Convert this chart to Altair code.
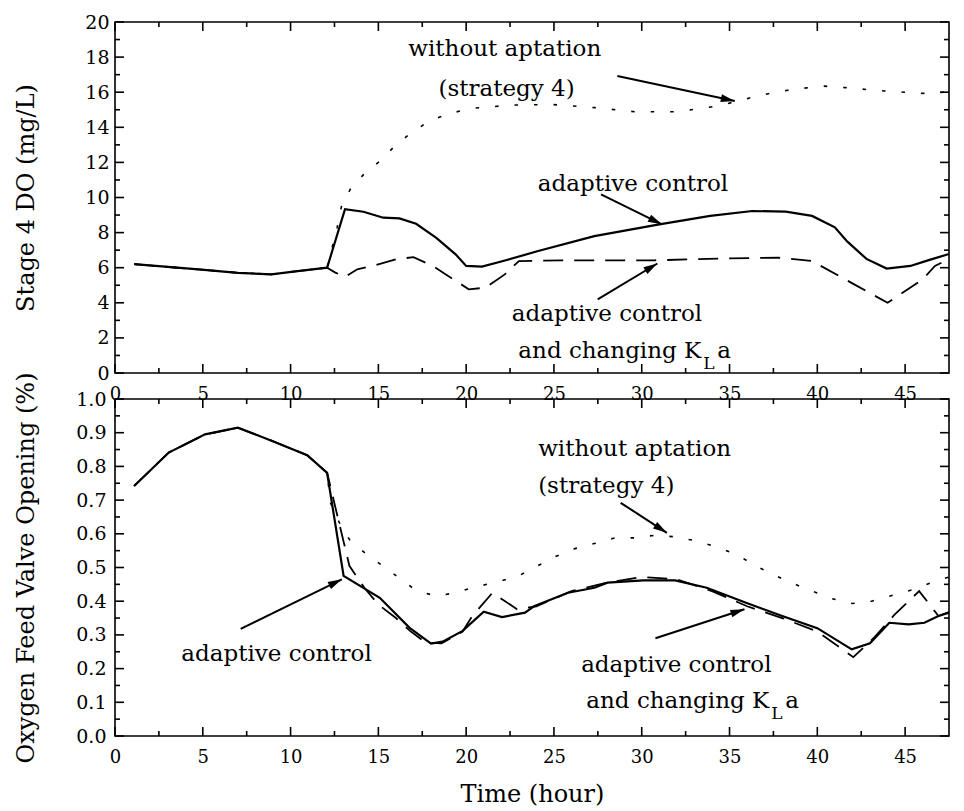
import math
import altair as alt
import pandas as pd

# ---------------- data ----------------
# Top panel: Stage 4 DO (mg/L)
do_solid_t = [1.1, 4.75, 7.0, 8.9, 10.4, 12.08, 13.1, 14.15, 15.28, 16.2, 17.15, 18.3, 19.4, 20.0, 20.9, 22.0,
              24.1, 27.3, 31.0, 33.9, 36.3, 38.2, 39.7, 41.0, 41.7, 42.8, 43.95, 45.3, 46.3, 47.5]
do_solid_v = [6.2, 5.9, 5.71, 5.62, 5.81, 6.0, 9.33, 9.19, 8.85, 8.81, 8.5, 7.7, 6.76, 6.1, 6.06, 6.35,
              6.95, 7.8, 8.47, 8.95, 9.23, 9.19, 8.95, 8.3, 7.5, 6.5, 5.95, 6.1, 6.42, 6.78]

do_dashed_t = [1.1, 4.75, 7.0, 8.9, 10.4, 12.08, 12.55, 13.1, 13.8, 14.7, 16.0, 17.0, 18.1, 20.15, 21.1, 22.2,
               23.0, 25.4, 30.7, 34.8, 37.8, 39.7, 42.1, 44.0, 46.0, 46.7, 47.5]
do_dashed_v = [6.2, 5.9, 5.71, 5.62, 5.81, 6.0, 5.72, 5.47, 5.91, 6.1, 6.48, 6.6, 6.1, 4.77, 4.86, 5.62,
               6.38, 6.42, 6.42, 6.53, 6.57, 6.38, 5.05, 4.0, 5.34, 6.1, 6.5]

do_dotted_t = [1.1, 4.75, 7.0, 8.9, 10.4, 12.08, 12.65, 12.9, 13.4, 14.15, 15.1, 16.0, 16.9, 17.9, 19.0, 20.35,
               22.6, 24.9, 27.3, 29.6, 32.0, 34.25, 35.5, 36.7, 38.6, 40.3, 41.6, 43.8, 46.3, 47.5]
do_dotted_v = [6.2, 5.9, 5.71, 5.62, 5.81, 6.0, 8.28, 9.5, 10.47, 11.3, 12.08, 13.0, 13.7, 14.36, 14.78, 15.08,
               15.27, 15.3, 15.12, 14.89, 14.89, 15.2, 15.5, 15.82, 16.16, 16.35, 16.26, 16.07, 15.92, 16.03]

# Bottom panel: Oxygen feed valve opening
vo_solid_t = [1.09, 3.06, 5.13, 7.0, 8.88, 10.95, 12.08, 13.02, 15.08, 16.78, 18.0, 18.66, 19.8, 21.0, 22.04,
              23.35, 23.9, 25.8, 27.3, 28.05, 30.1, 31.9, 33.7, 35.9, 38.0, 40.0, 41.96, 43.0, 44.1, 45.2,
              46.1, 46.9, 47.5]
vo_solid_v = [0.742, 0.841, 0.895, 0.915, 0.877, 0.833, 0.781, 0.475, 0.41, 0.321, 0.274, 0.28, 0.312, 0.369,
              0.353, 0.366, 0.386, 0.425, 0.44, 0.455, 0.462, 0.462, 0.44, 0.396, 0.356, 0.32, 0.257, 0.275,
              0.336, 0.331, 0.336, 0.356, 0.366]

vo_dashed_t = [1.09, 3.06, 5.13, 7.0, 8.88, 10.95, 12.08, 13.35, 14.2, 15.0, 16.0, 16.8, 17.7, 18.6, 19.8,
               20.35, 21.5, 22.9, 24.0, 26.0, 28.0, 30.0, 32.0, 34.0, 36.0, 38.0, 40.0, 42.05, 43.2, 44.4,
               45.8, 46.9, 47.5]
vo_dashed_v = [0.742, 0.841, 0.895, 0.915, 0.877, 0.833, 0.781, 0.505, 0.44, 0.39, 0.35, 0.312, 0.277, 0.275,
               0.31, 0.356, 0.425, 0.376, 0.385, 0.43, 0.455, 0.472, 0.465, 0.43, 0.385, 0.35, 0.31, 0.234,
               0.29, 0.36, 0.43, 0.356, 0.368]

vo_dotted_t = [1.09, 3.06, 5.13, 7.0, 8.88, 10.95, 12.08, 12.27, 12.83, 13.4, 14.33, 15.28, 16.2, 17.15, 18.3,
               19.4, 20.5, 21.85, 22.98, 23.9, 25.05, 26.2, 27.3, 28.4, 29.6, 30.8, 31.9, 33.1, 34.25, 35.4,
               36.4, 37.45, 38.5, 39.7, 40.8, 42.0, 43.1, 44.3, 45.5, 46.65, 47.5]
vo_dotted_v = [0.742, 0.841, 0.895, 0.915, 0.877, 0.833, 0.781, 0.692, 0.627, 0.579, 0.539, 0.504, 0.468, 0.432,
               0.415, 0.425, 0.442, 0.458, 0.475, 0.5, 0.532, 0.556, 0.571, 0.587, 0.588, 0.596, 0.591, 0.579,
               0.561, 0.539, 0.507, 0.48, 0.455, 0.43, 0.408, 0.393, 0.4, 0.418, 0.435, 0.458, 0.472]

# axis ticks
x_major = [0, 5, 10, 15, 20, 25, 30, 35, 40, 45]
x_minor = [2.5, 7.5, 12.5, 17.5, 22.5, 27.5, 32.5, 37.5, 42.5]
do_major = [0, 2, 4, 6, 8, 10, 12, 14, 16, 18, 20]
do_minor = [1, 3, 5, 7, 9, 11, 13, 15, 17, 19]
vo_major = [0.0, 0.1, 0.2, 0.3, 0.4, 0.5, 0.6, 0.7, 0.8, 0.9, 1.0]
vo_minor = [0.05, 0.15, 0.25, 0.35, 0.45, 0.55, 0.65, 0.75, 0.85, 0.95]

# annotations (data coordinates)
top_center_texts = [("without aptation", 22.2, 18.06), ("(strategy 4)", 22.3, 15.78),
                    ("adaptive control", 29.5, 10.37)]
top_left_texts = [("adaptive control", 22.6, 2.96)]
top_kla = (33.39, 0.855)
top_arrows = [(28.61, 16.92, 35.30, 15.50), (27.68, 10.18, 31.15, 8.47), (27.49, 4.19, 30.89, 6.24)]

bot_center_texts = []
bot_left_texts = [("without aptation", 24.1, 0.831), ("(strategy 4)", 24.1, 0.722),
                  ("adaptive control", 3.78, 0.2226), ("adaptive control", 26.55, 0.191)]
bot_kla = (37.26, 0.082)
bot_arrows = [(28.80, 0.692, 31.43, 0.603), (7.16, 0.318, 12.92, 0.465), (30.78, 0.290, 35.85, 0.376)]

# ---------------- chart ----------------
X_MAX = 47.5
W = 834
FONT = "DejaVu Serif"
ANN = 23
MAJ = 9
MIN = 5
x_scale = alt.Scale(domain=[0, X_MAX], nice=False, zero=False)
ARROW = "M0,0L-1,-0.28L-1,0.28Z"


def tick_table(ymax, height, y_major, y_minor):
    """Inward tick segments on all four sides, as pairs of points (lengths in data units)."""
    rows = []
    k = 0
    for vals, ln in ((x_major, MAJ), (x_minor, MIN)):
        d = ymax * ln / height
        for t in vals:
            for a, b in ((0.0, d), (float(ymax), ymax - d)):
                rows += [(float(t), a, k), (float(t), b, k)]
                k += 1
    for vals, ln in ((y_major, MAJ), (y_minor, MIN)):
        d = X_MAX * ln / W
        for v in vals:
            for a, b in ((0.0, d), (X_MAX, X_MAX - d)):
                rows += [(a, float(v), k), (b, float(v), k)]
                k += 1
    return pd.DataFrame(rows, columns=["tx", "ty", "seg"])


def panel(lines, ymax, y_major, y_minor, yfmt, ytitle, height, center_texts, left_texts, kla, arrows,
          xtitle, ylabpad):
    ys = alt.Scale(domain=[0, ymax], nice=False, zero=False)

    def XE(axis=None, field="t"):
        return alt.X(f"{field}:Q", scale=x_scale, axis=axis)

    def YE(axis=None, field="v"):
        return alt.Y(f"{field}:Q", scale=ys, axis=axis)

    xopts = dict(orient="bottom", values=x_major, ticks=False, tickSize=0, domain=False, grid=False,
                 labelFont=FONT, labelFontSize=18, labelPadding=12, labelFlush=False,
                 labelOverlap=False, labelColor="black", format="d", title=None)
    if xtitle:
        xopts.update(title=xtitle, titleFont=FONT, titleFontSize=24, titleFontWeight="normal",
                     titleColor="black", titlePadding=16)
    yopts = dict(orient="left", values=y_major, ticks=False, tickSize=0, domain=False, grid=False,
                 labelFont=FONT, labelFontSize=19, labelPadding=ylabpad, labelOverlap=False,
                 labelColor="black", format=yfmt, title=ytitle, titleFont=FONT, titleFontSize=24,
                 titleFontWeight="normal", titleColor="black", titleX=-89, titleY=height / 2,
                 titleBaseline="middle")

    layers = []
    styles = {"dotted": dict(strokeDash=[3.5, 16], strokeWidth=1.6),
              "dashed": dict(strokeDash=[20, 11], strokeWidth=1.8),
              "solid": dict(strokeWidth=2.2)}
    first = True
    for name, (tt, vv) in lines:
        df = pd.DataFrame({"t": tt, "v": vv})
        if first:
            enc = dict(x=XE(alt.Axis(**xopts)), y=YE(alt.Axis(**yopts)))
            first = False
        else:
            enc = dict(x=XE(), y=YE())
        layers.append(alt.Chart(df).mark_line(color="black", **styles[name]).encode(**enc))

    ticks = tick_table(ymax, height, y_major, y_minor)
    layers.append(alt.Chart(ticks).mark_line(color="black", strokeWidth=1.6).encode(
        x=XE(field="tx"), y=YE(field="ty"), detail="seg:N"))

    # arrows
    ppx = W / X_MAX
    ppy = height / ymax
    adf = pd.DataFrame({
        "t0": [a[0] for a in arrows], "v0": [a[1] for a in arrows],
        "t1": [a[2] for a in arrows], "v1": [a[3] for a in arrows]})
    adf["ang"] = [math.degrees(math.atan2(-(a[3] - a[1]) * ppy, (a[2] - a[0]) * ppx)) % 360 for a in arrows]
    layers.append(alt.Chart(adf).mark_rule(color="black", strokeWidth=2).encode(
        x=XE(field="t0"), y=YE(field="v0"), x2="t1:Q", y2="v1:Q"))
    layers.append(alt.Chart(adf).mark_point(shape=ARROW, size=784, filled=True, color="black", opacity=1,
                                            strokeWidth=0).encode(
        x=XE(field="t1"), y=YE(field="v1"), angle=alt.Angle("ang:Q", scale=None)))

    def texts(items, align, size=ANN, dx=0, dy=0):
        df = pd.DataFrame({"label": [i[0] for i in items], "t": [i[1] for i in items],
                           "v": [i[2] for i in items]})
        return alt.Chart(df).mark_text(align=align, baseline="alphabetic", font=FONT, fontSize=size,
                                       color="black", dx=dx, dy=dy).encode(
            x=XE(), y=YE(), text="label:N")

    if center_texts:
        layers.append(texts(center_texts, "center"))
    if left_texts:
        layers.append(texts(left_texts, "left"))
    kt, kv = kla
    layers.append(texts([("and changing K", kt, kv)], "right"))
    layers.append(texts([("L", kt, kv)], "left", size=17, dx=2, dy=11))
    layers.append(texts([("a", kt, kv)], "left", dx=16))

    return alt.layer(*layers).resolve_axis(x="independent", y="independent").properties(
        width=W, height=height)


top = panel([("dotted", (do_dotted_t, do_dotted_v)), ("dashed", (do_dashed_t, do_dashed_v)),
             ("solid", (do_solid_t, do_solid_v))],
            20, do_major, do_minor, "d", "Stage 4 DO (mg/L)", 351,
            top_center_texts, top_left_texts, top_kla, top_arrows, None, 6)
bottom = panel([("dotted", (vo_dotted_t, vo_dotted_v)), ("dashed", (vo_dashed_t, vo_dashed_v)),
                ("solid", (vo_solid_t, vo_solid_v))],
               1.0, vo_major, vo_minor, ".1f", "Oxygen Feed Valve Opening (%)", 337,
               bot_center_texts, bot_left_texts, bot_kla, bot_arrows, "Time (hour)", 9)

chart = alt.vconcat(top, bottom, spacing=26, bounds="flush").properties(
    padding={"left": 5, "top": 4, "right": 0, "bottom": 0}
).configure_view(stroke="black", strokeWidth=1.6)

chart.save("out.html", embed_options={"renderer": "svg", "actions": False})
